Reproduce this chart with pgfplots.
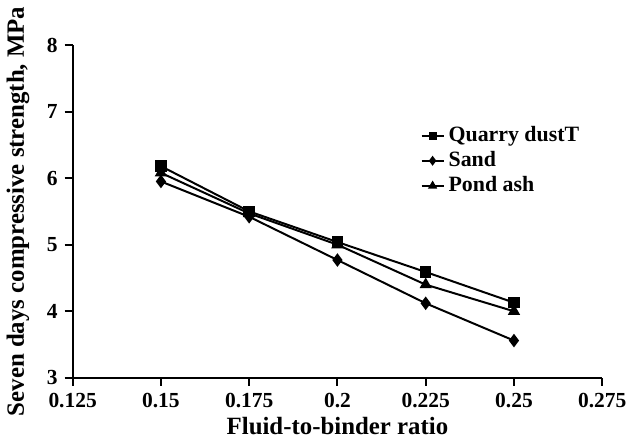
\documentclass[border=0pt]{standalone}
\usepackage{pgfplots}
\pgfplotsset{compat=1.18}
\usepackage{fontspec}
\setmainfont{Liberation Serif}

\begin{document}
\begin{tikzpicture}
\begin{axis}[
  scale only axis,
  width=266.5pt, height=167.5pt,
  xmin=0.125, xmax=0.275,
  ymin=3, ymax=8,
  xtick={0.125,0.15,0.175,0.2,0.225,0.25,0.275},
  xticklabels={0.125,0.15,0.175,0.2,0.225,0.25,0.275},
  ytick={3,4,5,6,7,8},
  axis lines=left,
  axis line style={line width=1pt, -},
  tick style={line width=1pt, black},
  tick align=outside,
  major tick length=4pt,
  tick label style={font=\fontsize{10.8}{13}\selectfont\bfseries},
  /pgf/number format/assume math mode=true,
  xlabel={Fluid-to-binder ratio},
  ylabel={Seven days compressive strength, MPa},
  label style={font=\fontsize{12.5}{14}\selectfont\bfseries},
  xlabel style={yshift=2pt},
  ylabel style={yshift=2pt},
  legend style={at={(0.645,0.78)}, anchor=north west, draw=none, fill=none,
    font=\fontsize{11}{13}\selectfont\bfseries, row sep=-0.5pt},
  legend cell align=left,
  legend image post style={scale=0.65},
  every axis plot/.append style={line width=1pt, black},
]
\addplot[mark=square*, mark size=2.4pt] coordinates {
  (0.15,6.18) (0.175,5.50) (0.2,5.04) (0.225,4.59) (0.25,4.13)
};
\addlegendentry{Quarry dustT}
\addplot[mark=diamond*, mark size=2.6pt] coordinates {
  (0.15,5.95) (0.175,5.42) (0.2,4.77) (0.225,4.12) (0.25,3.56)
};
\addlegendentry{Sand}
\addplot[mark=triangle*, mark size=2.6pt] coordinates {
  (0.15,6.08) (0.175,5.47) (0.2,5.00) (0.225,4.40) (0.25,4.00)
};
\addlegendentry{Pond ash}
\end{axis}
\end{tikzpicture}
\end{document}
